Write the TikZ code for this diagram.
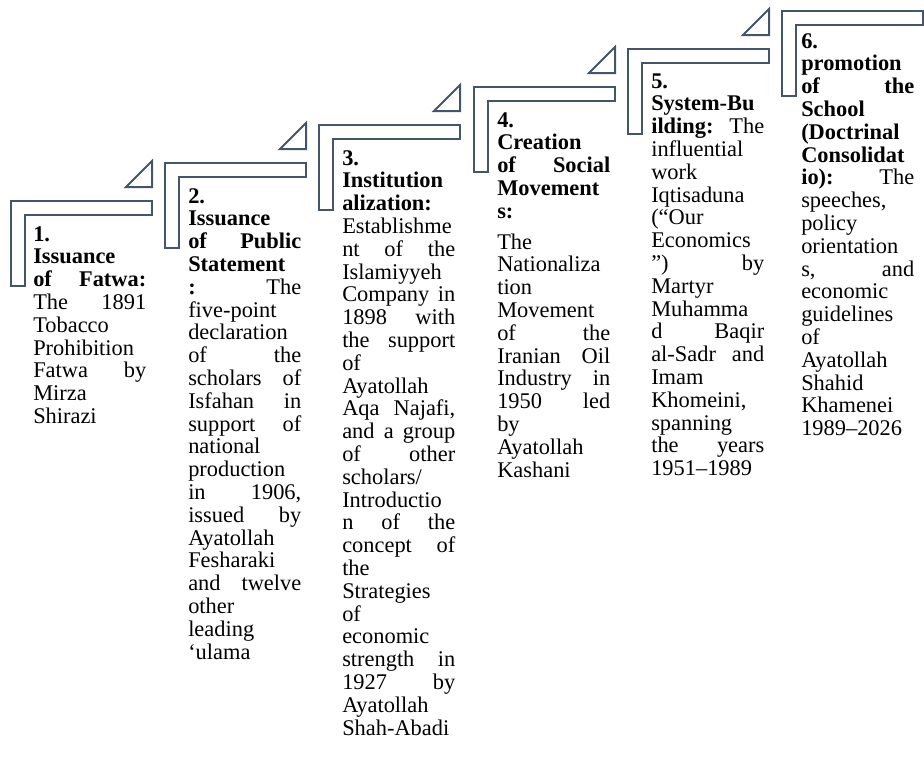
\documentclass[tikz,border=0pt]{standalone}
\usepackage{fontspec}
\setmainfont{Liberation Serif}
\usepackage{tikz}
\usetikzlibrary{positioning}
\definecolor{slate}{HTML}{44546A}
\newlength{\colw}
\setlength{\colw}{84.75pt}
% justified line: words spread over the column
\newcommand{\jl}[2]{\makebox[\colw][s]{#1\hfill#2}}
\newcommand{\jll}[3]{\makebox[\colw][s]{#1\hfill#2\hfill#3}}

\begin{document}
\begin{tikzpicture}[
      x=0.75pt, y=-0.75pt,
      frm/.style={draw=slate, line width=1.5pt, line join=miter},
      txt/.style={anchor=base west, inner sep=0pt, text width=\colw,
                  align=left, font=\fontsize{16.8}{17.1}\selectfont},
    ]
    \useasboundingbox (0,0) rectangle (924,758);

    % stair frames and the small triangles above them
    \foreach \i/\x/\y in {1/11/201, 2/165/163, 3/319/125, 4/474/87,
                          5/628/49, 6/782/11} {
      \draw[frm] (\x,\y) -- ++(141,0) -- ++(0,13.5) -- ++(-127.5,0)
        -- ++(0,71) -- ++(-13.5,0) -- cycle;
      \ifnum\i<6 \draw[frm] (\x+141,\y-14) -- ++(-26,0) -- ++(26,-26) -- cycle; \fi
    }

    % step texts
    \node[txt] (T1) at (33,241) {\textbf{1.}\\ \textbf{Issuance}\\
      \jl{\textbf{of}}{\textbf{Fatwa:}}\\ \jl{The}{1891}\\ Tobacco\\
      Prohibition\\ \jl{Fatwa}{by}\\ Mirza\\ Shirazi};
    \node[txt] (T2) at (188,203) {\textbf{2.}\\ \textbf{Issuance}\\
      \jl{\textbf{of}}{\textbf{Public}}\\ \textbf{Statement}\\
      \jl{\textbf{:}}{The}\\ five-point\\ declaration\\ \jl{of}{the}\\
      \jl{scholars}{of}\\ \jl{Isfahan}{in}\\ \jl{support}{of}\\ national\\
      production\\ \jl{in}{1906,}\\ \jl{issued}{by}\\ Ayatollah\\ Fesharaki\\
      \jl{and}{twelve}\\ other\\ leading\\ ‘ulama};
    \node[txt] (T3) at (342,165) {\textbf{3.}\\ \textbf{Institution}\\
      \textbf{alization:}\\ Establishme\\ \jll{nt}{of}{the}\\ Islamiyyeh\\
      \jl{Company}{in}\\ \jl{1898}{with}\\ \jl{the}{support}\\ of\\ Ayatollah\\
      \jl{Aqa}{Najafi,}\\ \jll{and}{a}{group}\\ \jl{of}{other}\\ scholars/\\
      Introductio\\ \jll{n}{of}{the}\\ \jl{concept}{of}\\ the\\ Strategies\\
      of\\ economic\\ \jl{strength}{in}\\ \jl{1927}{by}\\ Ayatollah\\
      Shah-Abadi};
    \node[txt] (T4) at (497,127) {\textbf{4.}\\ \textbf{Creation}\\
      \jl{\textbf{of}}{\textbf{Social}}\\ \textbf{Movement}\\ \textbf{s:}\\[6pt]
      The\\ Nationaliza\\ tion\\ Movement\\ \jl{of}{the}\\ \jl{Iranian}{Oil}\\
      \jl{Industry}{in}\\ \jl{1950}{led}\\ by\\ Ayatollah\\ Kashani};
    \node[txt] (T5) at (651,88) {\textbf{5.}\\ \textbf{System-Bu}\\
      \jl{\textbf{ilding:}}{The}\\ influential\\ work\\ Iqtisaduna\\ (“Our\\
      Economics\\ \jl{”)}{by}\\ Martyr\\ Muhamma\\ \jl{d}{Baqir}\\
      \jl{al-Sadr}{and}\\ Imam\\ Khomeini,\\ spanning\\ \jl{the}{years}\\
      1951–1989};
    \node[txt] (T6) at (801,48) {\textbf{6.}\\ \textbf{promotion}\\
      \jl{\textbf{of}}{\textbf{the}}\\ \textbf{School}\\ \textbf{(Doctrinal}\\
      \textbf{Consolidat}\\ \jl{\textbf{io):}}{The}\\ speeches,\\ policy\\
      orientation\\ \jl{s,}{and}\\ economic\\ guidelines\\ of\\ Ayatollah\\
      Shahid\\ Khamenei\\ 1989–2026};
\end{tikzpicture}
\end{document}
